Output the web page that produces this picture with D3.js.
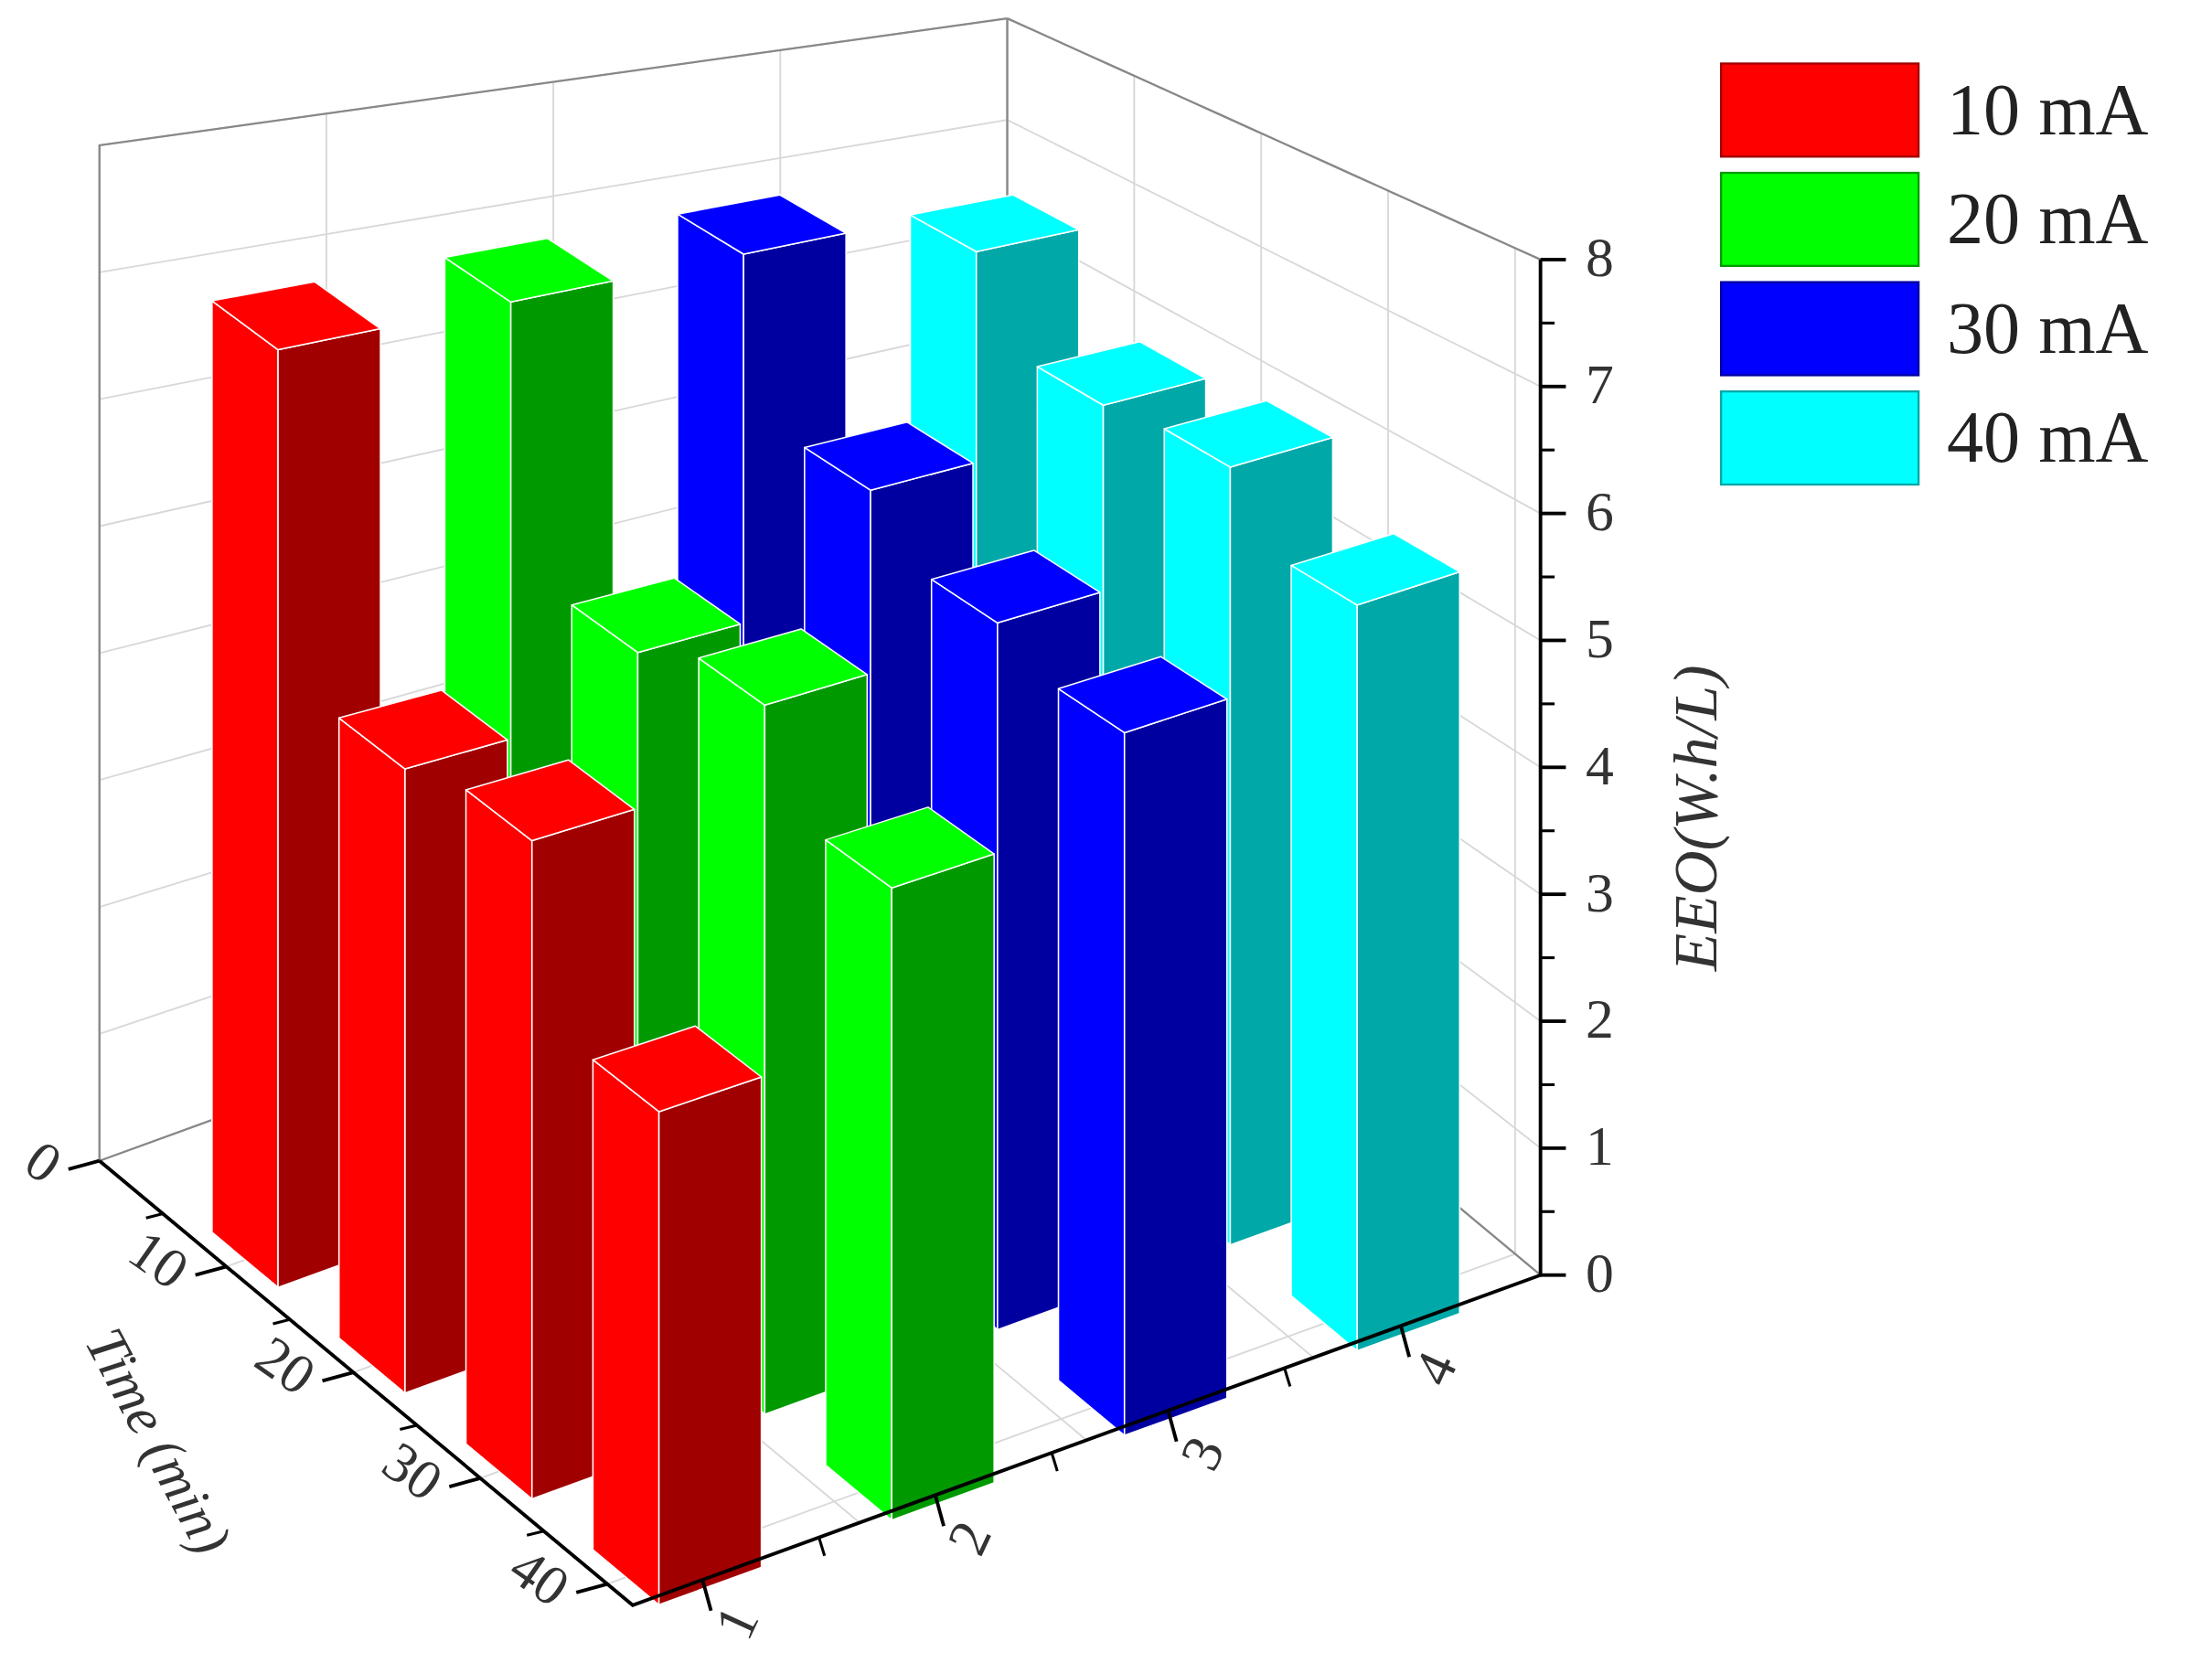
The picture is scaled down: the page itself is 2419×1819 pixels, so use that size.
<!DOCTYPE html>
<html><head><meta charset="utf-8">
<script src="https://cdn.jsdelivr.net/npm/d3@7"></script>
<style>body{margin:0;background:#fff}</style></head>
<body><svg id="c" width="2419" height="1819" viewBox="0 0 1568 1179"></svg>
<script>
const series = ["10 mA","20 mA","30 mA","40 mA"];
const times = [10,20,30,40];
const values = [
  [7.3,4.8,5.0,3.7],
  [7.3,5.2,5.5,4.8],
  [7.3,6.0,5.6,5.4],
  [6.9,6.2,6.3,5.8]
];
const catTicks = [1,2,3,4];
const timeTicks = [0,10,20,30,40];
const zTicks = [0,1,2,3,4,5,6,7,8];
const light = ["#ff0000","#00ff00","#0000ff","#00ffff"];
const dark = ["#a00000","#009a00","#0000a0","#00a8a8"];

const iS = d3.scaleLinear().domain([1,4]).range([0,3]);
const jS = d3.scaleLinear().domain([10,40]).range([0,3]);
const zS = d3.scaleLinear().domain([0,8]).range([0,720]);
const X0=210,Y0=880;
const I0=-0.3,I1=3.6,J0=jS(0),J1=3.2;
function F(i,j){const u=(i-I0)/(I1-I0), w=(j-J0)/(J1-J0); return 1-0.2*u*(1-w)+0.05*(1-u)*w;}
function P(i,j,z){return [X0+i*165+j*90, Y0-i*60+j*75-zS(z)*F(i,j)];}
const svg=d3.select("#c");
const line=d3.line();
const grid=svg.append("g").attr("stroke","#d8d8d8").attr("stroke-width",1.2).attr("fill","none");
const seg=(a,b,n=20)=>d3.range(n+1).map(k=>a(k/n));
for(let z=1;z<=8;z++){
  grid.append("path").attr("d",line([P(I0,J0,z),P(I1,J0,z)]));
  grid.append("path").attr("d",line(seg(s=>P(I1,J0+(J1-J0)*s,z))));
}
for(let k=0;k<=4;k++){const i=I0+(I1-I0)*k/4; grid.append("path").attr("d",line([P(i,J0,0),P(i,J0,8)])); grid.append("path").attr("d",line([P(i,J0,0),P(i,J1,0)]));}
timeTicks.forEach(t=>{const j=jS(t); grid.append("path").attr("d",line([P(I0,j,0),P(I1,j,0),P(I1,j,8)]));});
const frame=svg.append("g").attr("stroke","#888").attr("stroke-width",1.5).attr("fill","none");
frame.append("path").attr("d",line([P(I0,J0,0),P(I0,J0,8),P(I1,J0,8)]));
frame.append("path").attr("d",line(seg(s=>P(I1,J0+(J1-J0)*s,8))));
frame.append("path").attr("d",line([P(I1,J0,0),P(I1,J0,8)]));
frame.append("path").attr("d",line([P(I0,J0,0),P(I1,J0,0),P(I1,J1,0)]));

// bars
const bars=[];
values.forEach((row,s)=>row.forEach((v,k)=>bars.push({s,t:times[k],v})));
bars.sort((a,b)=>(jS(a.t)-iS(a.s+1))-(jS(b.t)-iS(b.s+1)));
const wi=0.22,wj=0.26;
const bg=svg.append("g").attr("stroke","#fff").attr("stroke-width",1).attr("stroke-linejoin","round");
const poly=pts=>"M"+pts.map(p=>p.join(",")).join("L")+"Z";
bars.forEach(b=>{
  const i=iS(b.s+1), j=jS(b.t), v=b.v;
  bg.append("path").attr("fill",light[b.s]).attr("d",poly([P(i-wi,j-wj,0),P(i-wi,j+wj,0),P(i-wi,j+wj,v),P(i-wi,j-wj,v)]));
  bg.append("path").attr("fill",dark[b.s]).attr("d",poly([P(i-wi,j+wj,0),P(i+wi,j+wj,0),P(i+wi,j+wj,v),P(i-wi,j+wj,v)]));
  bg.append("path").attr("fill",light[b.s]).attr("d",poly([P(i-wi,j-wj,v),P(i-wi,j+wj,v),P(i+wi,j+wj,v),P(i+wi,j-wj,v)]));
});

// axes
const ax=svg.append("g").attr("stroke","#000").attr("stroke-width",2.5).attr("fill","none");
ax.append("path").attr("d",line([P(I0,J0,0),P(I0,J1,0),P(I1,J1,0),P(I1,J1,8)]));
const font="Liberation Serif, Times New Roman, serif";
const tx=svg.append("g").attr("font-family",font).attr("fill","#333");
timeTicks.forEach(t=>{
  const p=P(I0,jS(t),0), q=[p[0]-22,p[1]+6];
  ax.append("path").attr("d",line([p,q]));
  if(t<40){const m=P(I0,jS(t+5),0); ax.append("path").attr("d",line([m,[m[0]-12,m[1]+3]])).attr("stroke-width",2);}
  tx.append("text").attr("x",q[0]-12).attr("y",q[1]+4).attr("font-size",40).attr("text-anchor","end")
    .attr("transform",`rotate(35,${q[0]-12},${q[1]+4})`).attr("dominant-baseline","middle").text(t);
});
{const p=P(I0,jS(20),0); tx.append("text").attr("x",p[0]-150).attr("y",p[1]+55).attr("font-size",40).attr("font-style","italic")
  .attr("text-anchor","middle").attr("transform",`rotate(62,${p[0]-150},${p[1]+55})`).text("Time (min)");}
catTicks.forEach(c=>{
  const p=P(iS(c),J1,0), q=[p[0]+6,p[1]+22];
  ax.append("path").attr("d",line([p,q]));
  if(c>1){const m=P(iS(c)-0.5,J1,0); ax.append("path").attr("d",line([m,[m[0]+4,m[1]+13]])).attr("stroke-width",2);}
  tx.append("text").attr("x",q[0]+22).attr("y",q[1]+10).attr("font-size",40).attr("text-anchor","middle")
    .attr("transform",`rotate(-65,${q[0]+22},${q[1]+10})`).attr("dominant-baseline","middle").text(c);
});
zTicks.forEach(z=>{
  const p=P(I1,J1,z);
  ax.append("path").attr("d",line([p,[p[0]+18,p[1]]]));
  if(z<8){const m=P(I1,J1,z+0.5); ax.append("path").attr("d",line([m,[m[0]+10,m[1]]])).attr("stroke-width",2);}
  tx.append("text").attr("x",p[0]+32).attr("y",p[1]+12).attr("font-size",40).text(z);
});
{const p=P(I1,J1,3.6); tx.append("text").attr("x",p[0]+125).attr("y",p[1]).attr("font-size",44).attr("font-style","italic")
  .attr("text-anchor","middle").attr("transform",`rotate(-90,${p[0]+125},${p[1]})`).text("EEO(W.h/L)");}

// legend
const lg=svg.append("g");
series.forEach((s,k)=>{
  const y=45+k*77.5;
  lg.append("rect").attr("x",1220).attr("y",y).attr("width",140).attr("height",66).attr("fill",light[k]).attr("stroke",dark[k]).attr("stroke-width",1.5);
  lg.append("text").attr("x",1380).attr("y",y+50).attr("font-family",font).attr("font-size",52).attr("fill","#222").text(s);
});
</script></body></html>
